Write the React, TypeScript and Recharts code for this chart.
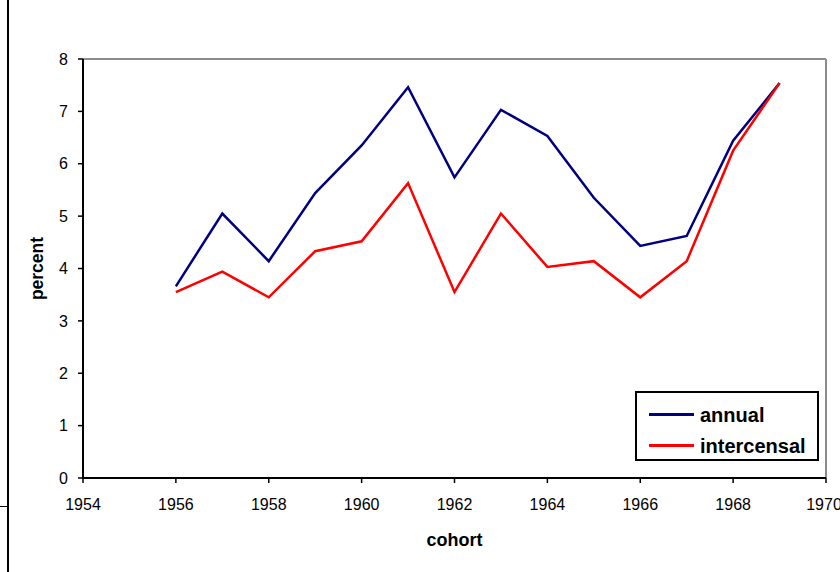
import { LineChart, Line, XAxis, YAxis, Legend, ReferenceLine } from "recharts";

const cohorts = [1956, 1957, 1958, 1959, 1960, 1961, 1962, 1963, 1964, 1965, 1966, 1967, 1968, 1969];
const annual = [3.66, 5.05, 4.14, 5.44, 6.35, 7.46, 5.74, 7.03, 6.53, 5.35, 4.43, 4.62, 6.44, 7.54];
const intercensal = [3.55, 3.94, 3.45, 4.33, 4.52, 5.63, 3.55, 5.05, 4.03, 4.14, 3.45, 4.14, 6.25, 7.54];
const xTicks = [1954, 1956, 1958, 1960, 1962, 1964, 1966, 1968, 1970];
const yTicks = [0, 1, 2, 3, 4, 5, 6, 7, 8];

const data = cohorts.map((c, i) => ({ cohort: c, annual: annual[i], intercensal: intercensal[i] }));

const FONT = "'Liberation Sans', Arial, Helvetica, sans-serif";
const tickStyle = { fill: "#000", fontSize: 16, fontFamily: FONT };

const LegendBox = (props: any) => {
  const items = props.payload || [];
  return (
    <div
      style={{
        width: 184,
        height: 70,
        boxSizing: "border-box",
        border: "2px solid #000",
        background: "#fff",
        fontFamily: FONT,
        paddingTop: 6,
      }}
    >
      {items.map((it: any) => (
        <div key={it.value} style={{ display: "flex", alignItems: "center", height: 31 }}>
          <div style={{ width: 45, height: 3, background: it.color, marginLeft: 12, marginRight: 6 }} />
          <span style={{ fontSize: 20, fontWeight: "bold", color: "#000", lineHeight: "20px" }}>{it.value}</span>
        </div>
      ))}
    </div>
  );
};

export default function App() {
  return (
    <div style={{ position: "absolute", left: 0, top: 0, width: 840, height: 572, background: "#fff" }}>
      <div style={{ position: "absolute", left: 7, top: 0, width: 2, height: 572, background: "#000" }} />
      <div style={{ position: "absolute", left: 0, top: 506, width: 8, height: 1, background: "#000" }} />
      <div style={{ position: "absolute", left: 0, top: 0 }}>
        <LineChart width={840} height={572} data={data} margin={{ top: 59, right: 14, bottom: 14, left: 0 }}>
          <ReferenceLine y={8} stroke="#8c8c8c" strokeWidth={2} />
          <ReferenceLine x={1970} stroke="#8c8c8c" strokeWidth={2} />
          <XAxis
            dataKey="cohort"
            type="number"
            domain={[1954, 1970]}
            ticks={xTicks}
            allowDataOverflow
            height={80}
            tick={tickStyle}
            tickSize={5}
            tickMargin={16}
            axisLine={{ stroke: "#000", strokeWidth: 2 }}
            tickLine={{ stroke: "#000", strokeWidth: 1.5 }}
            label={({ viewBox }: any) => (
              <text
                x={viewBox.x + viewBox.width / 2}
                y={viewBox.y + 68}
                textAnchor="middle"
                fontFamily={FONT}
                fontWeight="bold"
                fontSize={18}
                fill="#000"
              >
                cohort
              </text>
            )}
          />
          <YAxis
            type="number"
            domain={[0, 8]}
            ticks={yTicks}
            width={83}
            tick={tickStyle}
            tickSize={5}
            tickMargin={10}
            axisLine={{ stroke: "#000", strokeWidth: 2 }}
            tickLine={{ stroke: "#000", strokeWidth: 1.5 }}
            label={({ viewBox }: any) => {
              const cy = viewBox.y + viewBox.height / 2;
              return (
                <text
                  x={43}
                  y={cy}
                  transform={`rotate(-90, 43, ${cy})`}
                  textAnchor="middle"
                  fontFamily={FONT}
                  fontWeight="bold"
                  fontSize={17.5}
                  fill="#000"
                >
                  percent
                </text>
              );
            }}
          />
          <Line
            dataKey="annual"
            name="annual"
            stroke="#000080"
            strokeWidth={2.5}
            dot={false}
            type="linear"
            isAnimationActive={false}
          />
          <Line
            dataKey="intercensal"
            name="intercensal"
            stroke="#ff0000"
            strokeWidth={2.5}
            dot={false}
            type="linear"
            isAnimationActive={false}
          />
          <Legend
            layout="vertical"
            align="center"
            verticalAlign="middle"
            content={LegendBox}
            wrapperStyle={{ position: "absolute", left: 635, top: 391, width: 184, height: 70 }}
          />
        </LineChart>
      </div>
    </div>
  );
}
